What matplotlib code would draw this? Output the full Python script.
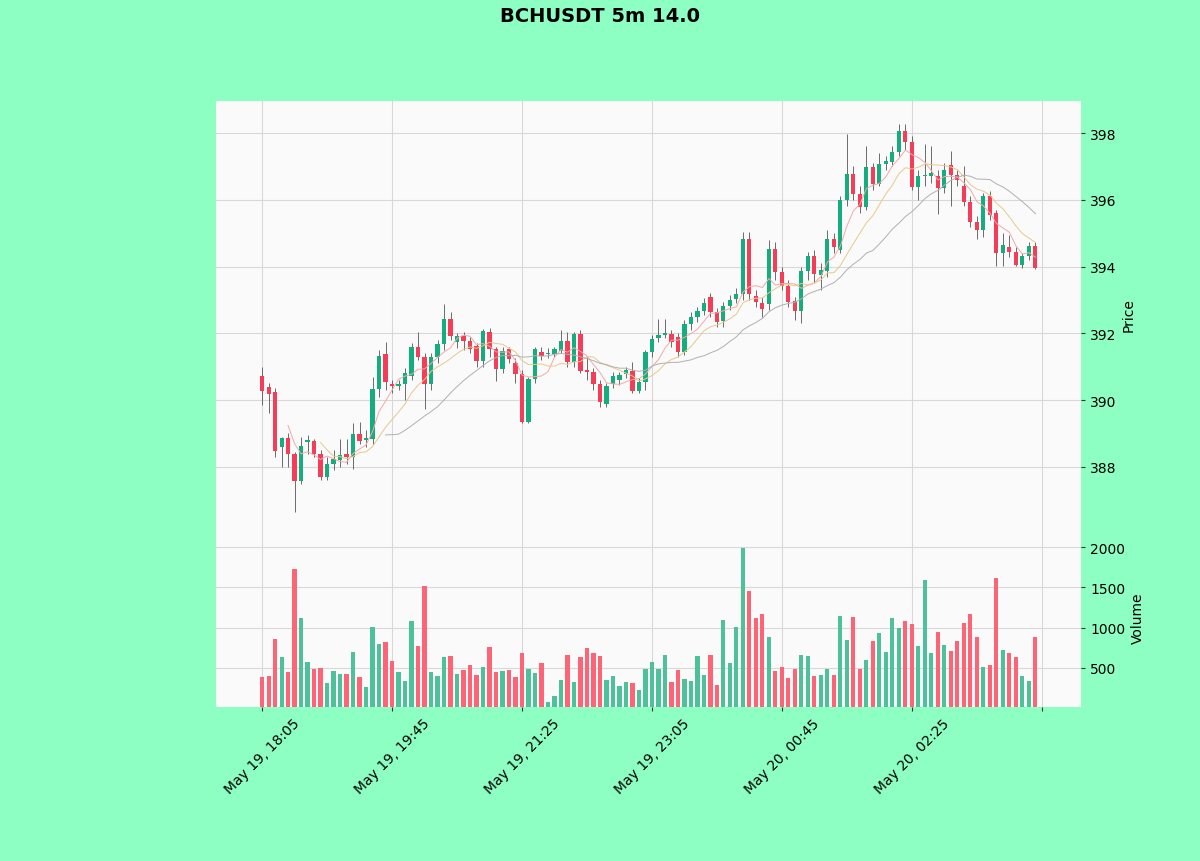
import numpy as np
import pandas as pd
import matplotlib
matplotlib.use("Agg")
import matplotlib.pyplot as plt

# 5m candles
opens = [390.73, 390.4, 390.25, 388.6, 388.87, 388.39, 387.58, 388.75, 388.78, 388.39,
         387.7, 388.1, 388.22, 388.4, 388.3, 388.99, 388.8, 388.84, 390.33, 391.38,
         390.49, 390.43, 390.49, 390.72, 391.6, 391.3, 390.49, 391.3, 391.68, 392.43,
         391.74, 391.92, 391.77, 391.62, 391.17, 392.04, 391.53, 390.93, 391.53, 391.1,
         390.78, 389.35, 390.63, 391.44, 391.38, 391.38, 391.47, 391.77, 391.14, 391.98,
         390.9, 390.84, 390.49, 389.89, 390.49, 390.6, 390.78, 390.87, 390.28, 390.55,
         391.44, 391.86, 391.95, 391.98, 391.9, 391.44, 392.28, 392.5, 392.67, 393.09,
         392.64, 392.37, 392.82, 393.03, 393.18, 394.83, 393.12, 392.9, 392.88, 394.53,
         393.84, 393.42, 392.97, 392.67, 393.87, 394.32, 393.75, 393.87, 394.83, 394.5,
         396.0, 396.77, 396.17, 395.78, 396.98, 396.47, 397.07, 397.13, 397.43, 398.06,
         397.73, 396.38, 396.71, 396.7, 396.72, 396.35, 397.05, 396.75, 396.4, 395.93,
         395.33, 395.1, 396.1, 395.6, 394.4, 394.6, 394.45, 394.05, 394.32, 394.62]
highs = [391.0, 390.5, 390.35, 388.9, 389.0, 388.45, 388.9, 388.95, 388.85, 388.5,
         388.3, 388.5, 388.85, 388.85, 389.3, 389.35, 389.1, 390.7, 391.5, 391.74,
         390.6, 390.6, 390.95, 391.7, 392.04, 391.4, 391.4, 391.8, 392.88, 392.65,
         392.0, 392.05, 391.9, 391.7, 392.12, 392.15, 391.6, 391.6, 391.6, 391.25,
         390.9, 390.7, 391.6, 391.6, 391.55, 391.6, 392.1, 392.05, 392.05, 392.1,
         391.3, 390.95, 390.6, 390.5, 390.85, 390.85, 391.0, 391.15, 390.65, 391.5,
         391.95, 392.43, 392.43, 392.1, 392.0, 392.4, 392.65, 392.8, 393.05, 393.2,
         392.75, 392.95, 393.15, 393.35, 395.05, 395.05, 393.3, 393.1, 394.8, 394.75,
         394.0, 393.6, 393.1, 394.0, 394.45, 394.5, 394.1, 395.1, 395.0, 396.1,
         397.97, 397.0, 396.4, 397.6, 397.1, 397.4, 397.3, 397.6, 398.27, 398.27,
         397.9, 396.9, 397.67, 397.6, 396.9, 397.1, 397.46, 396.9, 397.0, 396.1,
         395.5, 396.2, 396.25, 395.7, 395.0, 394.95, 394.6, 394.4, 394.75, 394.75]
lows = [389.85, 389.6, 388.3, 388.0, 388.0, 386.65, 387.5, 388.4, 388.3, 387.6,
        387.6, 387.9, 388.0, 388.1, 387.95, 388.7, 388.6, 388.7, 390.1, 390.3,
        390.2, 390.3, 390.0, 390.6, 391.2, 389.74, 390.3, 391.1, 391.5, 391.8,
        391.55, 391.5, 391.4, 391.0, 391.0, 391.3, 390.58, 390.8, 391.1, 390.5,
        389.3, 389.3, 390.5, 391.2, 391.25, 391.3, 391.4, 391.0, 391.0, 390.8,
        390.6, 390.3, 389.8, 389.8, 390.35, 390.45, 390.65, 390.2, 390.2, 390.3,
        391.3, 391.75, 391.85, 391.6, 391.3, 391.35, 392.1, 392.35, 392.55, 392.5,
        392.2, 392.2, 392.7, 392.9, 393.0, 393.0, 392.8, 392.5, 392.7, 393.6,
        393.3, 392.8, 392.4, 392.3, 393.6, 393.5, 393.3, 393.7, 394.4, 394.4,
        395.8, 396.0, 395.6, 395.7, 396.3, 396.4, 396.9, 397.0, 397.3, 397.5,
        396.3, 396.0, 396.4, 396.5, 395.57, 396.2, 395.8, 396.4, 395.8, 395.2,
        394.83, 394.9, 395.4, 394.02, 394.02, 394.3, 394.02, 393.95, 394.2, 393.93]
closes = [390.28, 390.19, 388.48, 388.87, 388.39, 387.58, 388.63, 388.8, 388.39, 387.7,
          388.1, 388.24, 388.36, 388.3, 388.99, 388.78, 388.86, 390.33, 391.32, 390.55,
          390.43, 390.49, 390.8, 391.6, 391.3, 390.49, 391.3, 391.68, 392.43, 391.92,
          391.92, 391.77, 391.53, 391.17, 392.07, 391.53, 390.93, 391.47, 391.23, 390.78,
          389.35, 390.63, 391.53, 391.32, 391.42, 391.53, 391.77, 391.14, 391.98, 390.87,
          390.85, 390.49, 389.95, 390.43, 390.72, 390.75, 390.9, 390.28, 390.55, 391.44,
          391.84, 391.95, 392.0, 391.74, 391.44, 392.28, 392.5, 392.67, 392.91, 392.64,
          392.34, 392.82, 393.0, 393.18, 394.83, 393.18, 392.94, 392.73, 394.53, 393.84,
          393.42, 392.94, 392.67, 393.87, 394.32, 393.78, 393.9, 394.83, 394.6, 396.0,
          396.77, 396.17, 395.78, 396.98, 396.47, 397.07, 397.16, 397.43, 398.06, 397.73,
          396.38, 396.71, 396.72, 396.8, 396.35, 396.9, 396.75, 396.6, 395.93, 395.33,
          395.1, 396.1, 395.53, 394.4, 394.65, 394.45, 394.05, 394.32, 394.62, 393.95]
volumes = [385, 405, 860, 632, 446, 1728, 1120, 578, 488, 496,
           314, 459, 425, 425, 694, 385, 260, 1005, 798, 826,
           591, 454, 343, 1087, 777, 1520, 454, 405, 632, 645,
           425, 479, 537, 413, 508, 757, 454, 459, 475, 385,
           686, 488, 438, 562, 82, 149, 355, 661, 323, 632,
           744, 686, 653, 351, 405, 273, 323, 314, 231, 488,
           570, 488, 661, 330, 479, 364, 343, 653, 413, 661,
           293, 1099, 562, 1005, 1984, 1459, 1116, 1170, 881, 459,
           508, 372, 488, 665, 653, 397, 413, 488, 413, 1141,
           851, 1136, 488, 603, 830, 934, 694, 1120, 992, 1087,
           1046, 769, 1595, 682, 943, 785, 715, 839, 1054, 1170,
           881, 508, 537, 1612, 727, 682, 632, 405, 343, 881]
start_time = "2000-05-19 18:05"
mav_periods = [5, 10, 20]

df = pd.DataFrame({"Open": opens, "High": highs, "Low": lows,
                   "Close": closes, "Volume": volumes},
                  index=pd.date_range(start_time, periods=len(opens), freq="5min"))

up_col = "#14ad7e"
down_col = "#f53d58"
vol_up = "#4dc29a"
vol_down = "#fd6475"
mav_cols = ["#f4a8a8", "#e9c88a", "#b0b0b0"]
grid_col = "#d8d8d8"

fig = plt.figure(figsize=(12, 8.62), dpi=100)
fig.patch.set_facecolor("#8effc2")
ax = fig.add_axes([0.18, 0.3875, 0.7208, 0.4942])
axv = fig.add_axes([0.18, 0.17865, 0.7208, 0.2088], sharex=ax)

x = np.arange(len(df))
up = df["Close"] >= df["Open"]
cols = np.where(up, up_col, down_col)
vcols = np.where(up, vol_up, vol_down)

ax.vlines(x, df["Low"], df["High"], color="#555555", linewidth=0.6, zorder=2)
body_bot = np.minimum(df["Open"], df["Close"])
body_h = np.maximum((df["Close"] - df["Open"]).abs(), 0.03)
ax.bar(x, body_h, bottom=body_bot, width=0.62, color=cols, zorder=3)

for p, c in zip(mav_periods, mav_cols):
    ax.plot(x, df["Close"].rolling(p).mean(), color=c, linewidth=0.7, zorder=4)

axv.bar(x, df["Volume"], width=0.62, color=vcols, zorder=3)

for a in (ax, axv):
    a.set_facecolor("#fafafa")
    a.grid(True, color=grid_col, linewidth=0.8, zorder=0)
    a.set_axisbelow(True)
    for s in a.spines.values():
        s.set_visible(False)
    a.yaxis.tick_right()
    a.yaxis.set_label_position("right")
    a.tick_params(axis="both", colors="#333333", labelcolor="black", length=3)

ax.set_xlim(-7.08, 126.0)
ax.set_ylim(386.2, 398.96)
ax.set_yticks([388, 390, 392, 394, 396, 398])
ax.set_ylabel("Price", fontsize=10)
ax.tick_params(axis="x", labelbottom=False, length=0)

axv.set_ylim(16, 2248)
axv.set_yticks([500, 1000, 1500, 2000])
axv.set_ylabel("Volume", fontsize=10)

ticks = list(range(0, len(df) + 1, 20))
labels = [df.index[t].strftime("%b %d, %H:%M") if t < len(df) else "" for t in ticks]
axv.set_xticks(ticks)
axv.set_xticklabels(labels, rotation=45, fontsize=10)

fig.suptitle("BCHUSDT 5m 14.0", fontsize=14, fontweight="bold", y=0.992)

fig.savefig("out.png", dpi=100, facecolor=fig.get_facecolor())
